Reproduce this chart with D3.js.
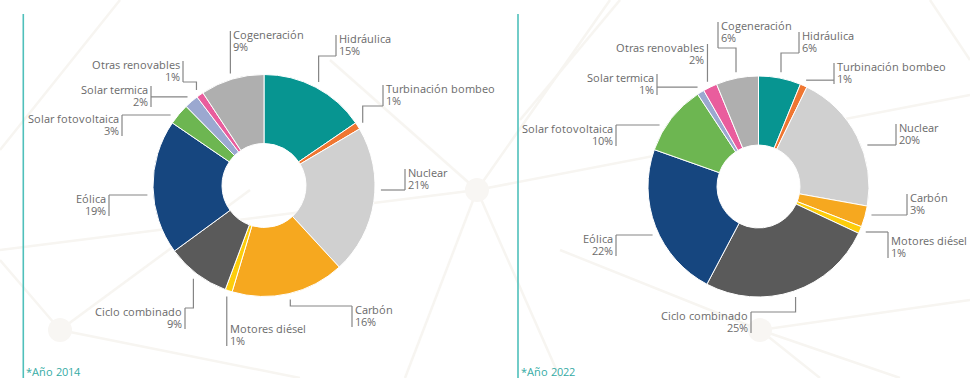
<!DOCTYPE html>
<html>
<head>
<meta charset="utf-8">
<script src="https://cdn.jsdelivr.net/npm/d3@7"></script>
<style>
  /* Open Sans with tight vertical metrics so stacked label lines sit 12px apart cleanly */
  @font-face {
    font-family: "Open Sans Label";
    src: local("Open Sans"), local("Open Sans Regular"), local("OpenSans-Regular");
    font-weight: 400;
    ascent-override: 76%;
    descent-override: 22%;
    line-gap-override: 0%;
  }
  html, body { margin: 0; padding: 0; background: #ffffff; }
  svg { display: block; }
  text { font-family: "Open Sans Label", "Open Sans", "DejaVu Sans", sans-serif; }
</style>
</head>
<body>
<svg id="chart" width="970" height="378"></svg>
<script>
// Generation mix by technology (percent of total)
const categories = [
  "Hidráulica", "Turbinación bombeo", "Nuclear", "Carbón", "Motores diésel",
  "Ciclo combinado", "Eólica", "Solar fotovoltaica", "Solar termica",
  "Otras renovables", "Cogeneración"
];
const share2014 = [15, 1, 21, 16, 1, 9, 19, 3, 2, 1, 9];
const share2022 = [6, 1, 20, 3, 1, 25, 22, 10, 1, 2, 6];
const yearLabels = ["*Año 2014", "*Año 2022"];

const palette = [
  "#079591", "#ef7631", "#d0d0d0", "#f6a81f", "#fdcd0b",
  "#5a5a5a", "#16467f", "#6db651", "#9ba8d0", "#e95d9d", "#afafaf"
];

// Label placement for each donut: where the text block sits and how the leader reaches it
const labels2014 = [
  { kind: "v",    side: "right", x: 336, y: 35,  lead: "bottom" },
  { kind: "v",    side: "right", x: 383, y: 85,  lead: "bottom" },
  { kind: "h",    side: "right", x: 405, y: 169, lead: "bottom" },
  { kind: "v",    side: "right", x: 352, y: 306, lead: "top" },
  { kind: "stem", side: "right", y: 325 },
  { kind: "v",    side: "left",  x: 185, y: 308, lead: "top" },
  { kind: "h",    side: "left",  x: 109, y: 195, lead: "top" },
  { kind: "h",    side: "left",  x: 122, y: 115, lead: "top" },
  { kind: "h",    side: "left",  x: 151, y: 86,  lead: "mid" },
  { kind: "v",    side: "left",  x: 183, y: 61,  lead: "bottom" },
  { kind: "stem", side: "right", y: 31 }
];
const labels2022 = [
  { kind: "v",    side: "right", x: 799, y: 32,  lead: "bottom" },
  { kind: "h",    side: "right", x: 834, y: 63,  lead: "mid" },
  { kind: "h",    side: "right", x: 896, y: 124, lead: "bottom" },
  { kind: "h",    side: "right", x: 907, y: 194, lead: "bottom" },
  { kind: "h",    side: "right", x: 888, y: 237, lead: 232 },
  { kind: "v",    side: "left",  x: 751, y: 312, lead: "top" },
  { kind: "h",    side: "left",  x: 616, y: 235, lead: "top" },
  { kind: "h",    side: "left",  x: 616, y: 125, lead: "top" },
  { kind: "h",    side: "left",  x: 657, y: 74,  lead: "mid" },
  { kind: "stem", side: "left",  y: 44 },
  { kind: "v",    side: "right", x: 718, y: 22,  lead: 48 }
];

const panels = [
  { values: share2014, labels: labels2014, cx: 264,   cy: 185.5, r: 111,   ir: 42,   rule: 23.3, title: yearLabels[0] },
  { values: share2022, labels: labels2022, cx: 758.5, cy: 186.5, r: 110.5, ir: 41.5, rule: 518,  title: yearLabels[1] }
];

const svg = d3.select("#chart");

// faint network pattern behind the charts
const bgLines = [
  [[477, 190], [405, 378]], [[477, 190], [330, 60]], [[477, 190], [0, 250]],
  [[477, 190], [560, 378]], [[477, 190], [610, 0]], [[477, 190], [970, 95]],
  [[120, 0], [0, 150]], [[60, 330], [300, 378]], [[60, 330], [0, 260]],
  [[760, 330], [970, 300]], [[760, 330], [900, 378]], [[760, 330], [820, 378]],
  [[760, 330], [560, 250]], [[620, 0], [520, 120]], [[930, 0], [970, 60]],
  [[60, 330], [250, 190]]
];
const bg = svg.append("g").attr("class", "backdrop");
bg.selectAll("line").data(bgLines).join("line")
  .attr("x1", d => d[0][0]).attr("y1", d => d[0][1])
  .attr("x2", d => d[1][0]).attr("y2", d => d[1][1])
  .attr("stroke", "#f7f5f1").attr("stroke-width", 2.5);
bg.selectAll("circle").data([[477, 190], [60, 330], [760, 330]]).join("circle")
  .attr("cx", d => d[0]).attr("cy", d => d[1]).attr("r", 12)
  .attr("fill", "#f8f6f3");

const pie = d3.pie().sort(null).value(d => d);
const LINE_H = 21;

function draw() {
  panels.forEach(p => {
    const g = svg.append("g");

    // teal rule at the left of each panel
    g.append("line")
      .attr("x1", p.rule).attr("x2", p.rule)
      .attr("y1", 14).attr("y2", 378)
      .attr("stroke", "#4fc0bb").attr("stroke-width", 1.6);

    g.append("text")
      .attr("x", p.rule + 3).attr("y", 376)
      .attr("font-size", 11.4).attr("fill", "#33aaa4")
      .text(p.title);

    const arcs = pie(p.values);
    const arc = d3.arc().innerRadius(p.ir).outerRadius(p.r);

    const donut = g.append("g").attr("transform", `translate(${p.cx},${p.cy})`);
    donut.selectAll("path").data(arcs).join("path")
      .attr("d", arc)
      .attr("fill", (d, i) => palette[i])
      .attr("stroke", "#ffffff").attr("stroke-width", 1);

    const R = p.r + 6;
    const lab = g.append("g");

    arcs.forEach((d, i) => {
      const L = p.labels[i];
      const mid = (d.startAngle + d.endAngle) / 2;
      const px = p.cx + R * Math.sin(mid);
      const py = p.cy - R * Math.cos(mid);
      const top = L.y, bottom = L.y + LINE_H;
      let path, barX, barTop, barBottom;

      if (L.kind === "stem") {
        barX = px;
        barTop = Math.min(top, py);
        barBottom = Math.max(bottom, py);
        path = null;
      } else {
        let leadY;
        if (L.lead === "top") leadY = top;
        else if (L.lead === "bottom") leadY = bottom;
        else if (L.lead === "mid") leadY = Math.max(top, Math.min(bottom, py));
        else leadY = L.lead;
        barX = L.x;
        barTop = Math.min(top, leadY);
        barBottom = Math.max(bottom, leadY);
        if (L.kind === "v") {
          path = `M${px},${py}V${leadY}H${barX}`;
        } else {
          let sx = px;
          if (L.lead !== "mid") {
            const dir = L.side === "right" ? 1 : -1;
            sx = p.cx + dir * Math.sqrt(Math.max(0, R * R - (leadY - p.cy) ** 2));
          }
          path = `M${sx},${leadY}H${barX}`;
        }
      }

      if (path) {
        lab.append("path").attr("d", path)
          .attr("fill", "none").attr("stroke", "#858585").attr("stroke-width", 1.2);
      }
      lab.append("line")
        .attr("x1", barX).attr("x2", barX)
        .attr("y1", barTop).attr("y2", barBottom)
        .attr("stroke", "#858585").attr("stroke-width", 1.2);

      // two-line label block (name / share)
      const right = L.side === "right";
      const tx = right ? barX + 3 : barX - 3;
      [categories[i], p.values[i] + "%"].forEach((s, k) => {
        lab.append("text")
          .attr("x", tx).attr("y", top + 8 + k * 12)
          .attr("text-anchor", right ? "start" : "end")
          .attr("font-size", 11.2).attr("fill", "#6b6b6b")
          .text(s);
      });
    });
  });
}

// wait for the label face so text metrics are final before drawing
(document.fonts && document.fonts.load ? document.fonts.load('11px "Open Sans Label"') : Promise.resolve())
  .catch(() => {})
  .then(draw);
</script>
</body>
</html>
